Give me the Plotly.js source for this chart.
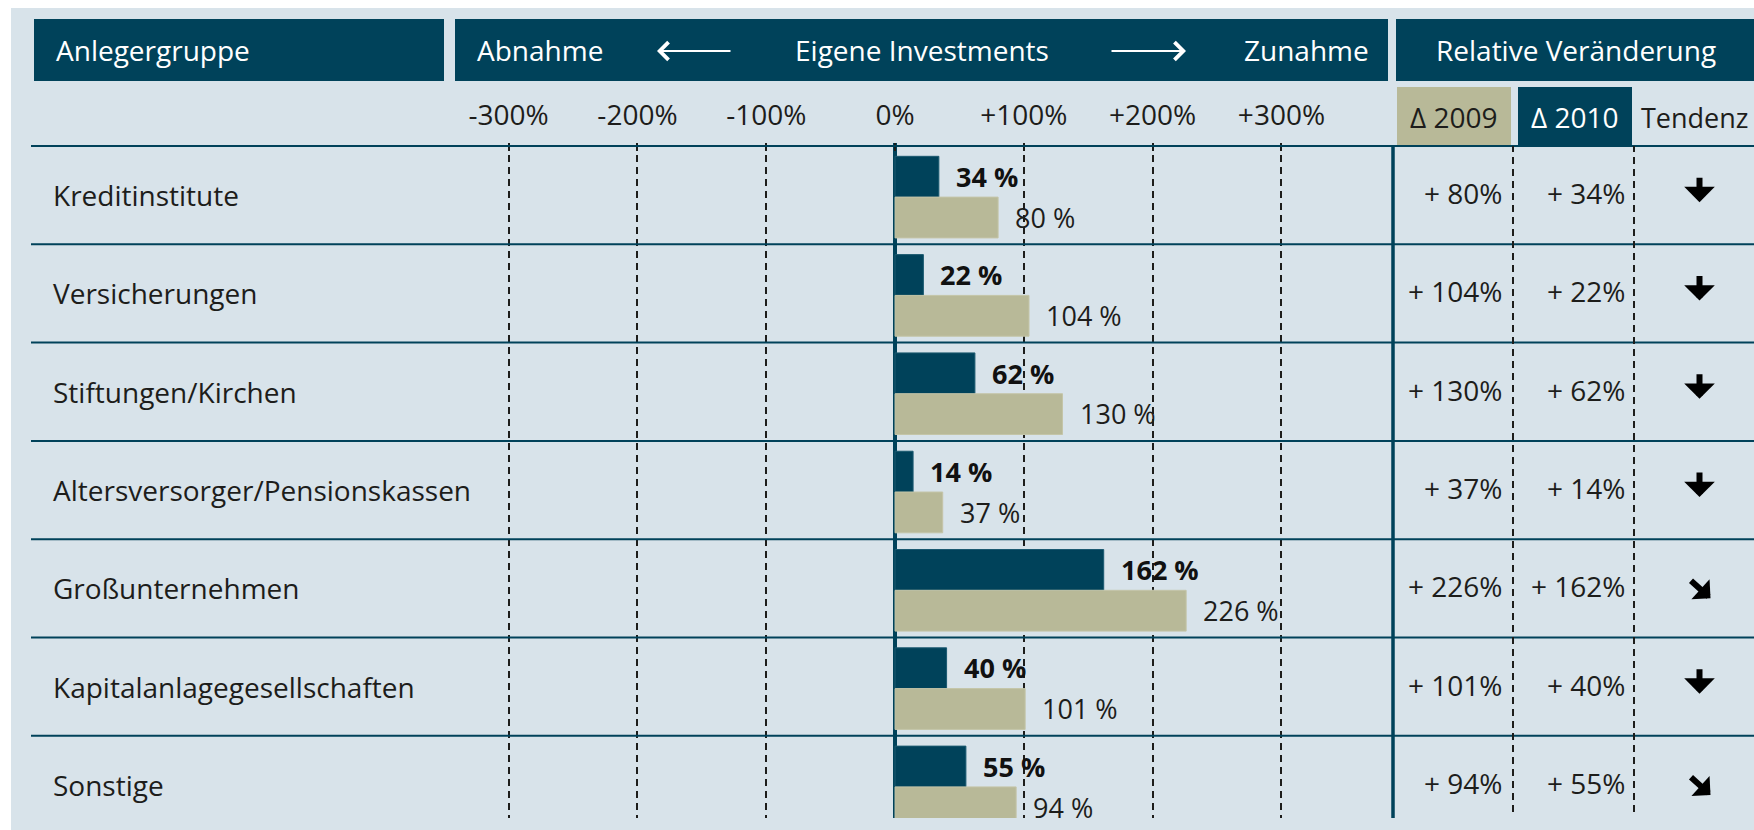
<!DOCTYPE html>
<html>
<head>
<meta charset="utf-8">
<script src="https://cdn.plot.ly/plotly-3.0.1.min.js"></script>
<style>html,body{margin:0;padding:0;background:#fff;}#chart{width:1754px;height:830px;}</style>
</head>
<body>
<div id="chart"></div>
<script>
// ---- data ----
const categories = ["Kreditinstitute", "Versicherungen", "Stiftungen/Kirchen", "Altersversorger/Pensionskassen", "Großunternehmen", "Kapitalanlagegesellschaften", "Sonstige"];
const change2009 = [80, 104, 130, 37, 226, 101, 94];
const change2010 = [34, 22, 62, 14, 162, 40, 55];
const tendency = ["down", "down", "down", "down", "downright", "down", "downright"];
const tickValues = [-300, -200, -100, 0, 100, 200, 300];
const tickLabels = ["-300%", "-200%", "-100%", "0%", "+100%", "+200%", "+300%"];

// ---- styling ----
const W = 1754, H = 830;
const DARK = "#00425a", KHAKI = "#b8b998", BG = "#d8e3ea", TXT = "#1d1d1b";
const FONT = "Open Sans, Noto Sans, sans-serif";
const FS = 28;
const px = x => x / W;
const py = y => 1 - y / H;

const rowH = 98.3;
const lineTop = 146;               // y of header bottom line
const plotBottom = 818;            // where vertical rules end
const topPx = lineTop - 0.03 * rowH;
const rangeTop = -0.53;
const rangeBottom = -0.5 + (plotBottom - lineTop) / rowH;

const traces = [
  { type: "bar", orientation: "h", y: categories, x: change2010, cliponaxis: false,
    marker: { color: DARK, line: { color: "#1b5a70", width: 1 } },
    width: 0.415, offset: -0.395, hoverinfo: "skip" },
  { type: "bar", orientation: "h", y: categories, x: change2009, cliponaxis: false,
    marker: { color: KHAKI, line: { color: "#c4c5a8", width: 1 } },
    width: 0.415, offset: 0.02, hoverinfo: "skip" }
];

const shapes = [];
const ann = [];

// background panel
shapes.push({ type: "rect", xref: "paper", yref: "paper", x0: px(11), x1: 1, y0: 0, y1: py(8),
  fillcolor: BG, line: { width: 0 }, layer: "below" });
// header boxes
[[34, 444], [455, 1388], [1396, 1754]].forEach(b => shapes.push({ type: "rect", xref: "paper", yref: "paper",
  x0: px(b[0]), x1: px(b[1]), y0: py(81), y1: py(19), fillcolor: DARK, line: { width: 0 }, layer: "below" }));
shapes.push({ type: "rect", xref: "paper", yref: "paper", x0: px(1397), x1: px(1511), y0: py(147), y1: py(87),
  fillcolor: KHAKI, line: { width: 0 }, layer: "below" });
shapes.push({ type: "rect", xref: "paper", yref: "paper", x0: px(1518), x1: px(1632), y0: py(147), y1: py(87),
  fillcolor: DARK, line: { width: 0 }, layer: "below" });
// row separators
categories.forEach((c, i) => shapes.push({ type: "line", xref: "paper", yref: "y", x0: px(31), x1: 1,
  y0: i - 0.5, y1: i - 0.5, line: { color: DARK, width: 2 } }));
// table separators
shapes.push({ type: "line", xref: "paper", yref: "paper", x0: px(1393), x1: px(1393), y0: py(818), y1: py(146),
  line: { color: DARK, width: 3.5 } });
[1513, 1634].forEach(x => shapes.push({ type: "line", xref: "paper", yref: "paper", x0: px(x), x1: px(x),
  y0: py(812), y1: py(146), line: { color: TXT, width: 2, dash: "7px,5px" } }));

// header texts
function txt(text, x, y, anchor, color, size) {
  ann.push({ text: text, xref: "paper", yref: "paper", x: px(x), y: py(y), xanchor: anchor,
    yanchor: "middle", showarrow: false, font: { family: FONT, size: size || FS, color: color } });
}
txt("Anlegergruppe", 54, 50, "left", "#ffffff");
txt("Abnahme", 475, 50, "left", "#ffffff");
txt("Eigene Investments", 921.5, 50, "center", "#ffffff");
txt("Zunahme", 1371, 50, "right", "#ffffff");
txt("Relative Veränderung", 1576, 50, "center", "#ffffff");
txt("Δ 2009", 1454, 117, "center", TXT);
txt("Δ 2010", 1575, 117, "center", "#ffffff");
txt("Tendenz", 1695, 117, "center", TXT, 27);
// header arrows
ann.push({ text: "", xref: "paper", yref: "paper", x: px(657), y: py(51), ax: 75, ay: 0, showarrow: true,
  arrowhead: 4, arrowsize: 1.7, arrowwidth: 2, arrowcolor: "#ffffff" });
ann.push({ text: "", xref: "paper", yref: "paper", x: px(1186), y: py(51), ax: -76, ay: 0, showarrow: true,
  arrowhead: 4, arrowsize: 1.7, arrowwidth: 2, arrowcolor: "#ffffff" });

categories.forEach((c, i) => {
  // category label
  ann.push({ text: c, xref: "paper", yref: "y", x: px(51), y: i, xanchor: "left", yanchor: "middle",
    showarrow: false, font: { family: FONT, size: FS, color: TXT } });
  // bar labels
  ann.push({ text: "<b>" + change2010[i] + " %</b>", xref: "x", yref: "y", x: change2010[i], y: i - 0.19,
    xanchor: "left", yanchor: "middle", xshift: 15, showarrow: false, font: { family: FONT, size: FS - 1, color: "#111" } });
  ann.push({ text: change2009[i] + " %", xref: "x", yref: "y", x: change2009[i], y: i + 0.225,
    xanchor: "left", yanchor: "middle", xshift: 15, showarrow: false, font: { family: FONT, size: FS - 1, color: TXT } });
  // table values
  ann.push({ text: "+ " + change2009[i] + "%", xref: "paper", yref: "y", x: px(1504), y: i, yshift: 2,
    xanchor: "right", yanchor: "middle", showarrow: false, font: { family: FONT, size: FS, color: TXT } });
  ann.push({ text: "+ " + change2010[i] + "%", xref: "paper", yref: "y", x: px(1627), y: i, yshift: 2,
    xanchor: "right", yanchor: "middle", showarrow: false, font: { family: FONT, size: FS, color: TXT } });
  // tendency arrows
  const a = { text: "", xref: "paper", yref: "y", x: px(1699.5), y: i, showarrow: true, arrowhead: 1,
    arrowcolor: "#000", arrowwidth: 6, arrowsize: 0.85 };
  if (tendency[i] === "down") { Object.assign(a, { ax: 0, ay: -26, yshift: -7 }); }
  else { Object.assign(a, { ax: -21, ay: -19, xshift: 11, yshift: -10, arrowwidth: 6, arrowsize: 0.75 }); }
  ann.push(a);
});

const layout = {
  width: W, height: H,
  margin: { l: 0, r: 0, t: 0, b: 0, pad: 0 },
  paper_bgcolor: "#ffffff", plot_bgcolor: "rgba(0,0,0,0)",
  showlegend: false, barmode: "overlay",
  font: { family: FONT, color: TXT },
  xaxis: {
    domain: [px(444), px(1393)], range: [-350.2, 386.6], side: "top",
    tickmode: "array", tickvals: tickValues, ticktext: tickLabels,
    tickfont: { family: FONT, size: FS, color: TXT },
    ticks: "inside", ticklen: 8, tickwidth: 2, tickcolor: TXT, ticklabelstandoff: 11,
    showgrid: true, gridcolor: TXT, gridwidth: 2, griddash: "7px,5px",
    zeroline: true, zerolinecolor: DARK, zerolinewidth: 3.5, showline: false, fixedrange: true
  },
  yaxis: {
    domain: [py(plotBottom), py(topPx)], type: "category", categoryorder: "array", categoryarray: categories,
    range: [rangeBottom, rangeTop], showgrid: false, zeroline: false, showticklabels: false,
    ticks: "", showline: false, fixedrange: true
  },
  shapes: shapes,
  annotations: ann
};

Plotly.newPlot("chart", traces, layout, { displayModeBar: false, staticPlot: true });
</script>
</body>
</html>
